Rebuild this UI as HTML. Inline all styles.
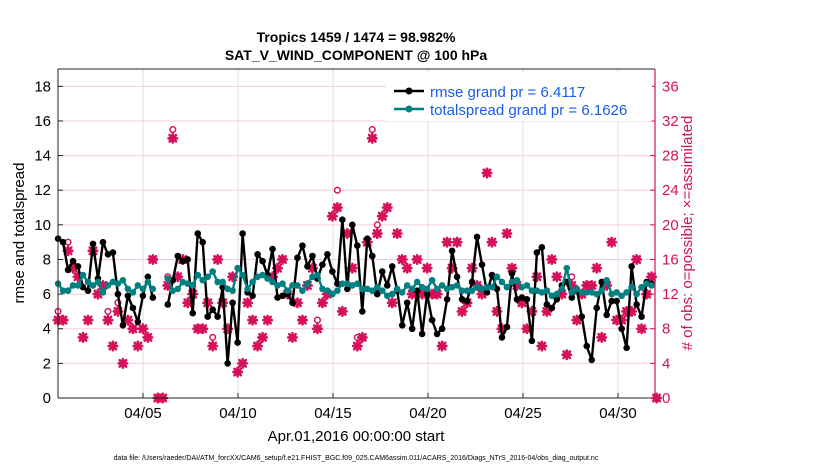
<!DOCTYPE html>
<html><head><meta charset="utf-8"><style>
html,body{margin:0;padding:0;background:#fff;}
svg{display:block;font-family:"Liberation Sans",Arial,sans-serif;}
</style></head><body>
<svg id="chart" width="830" height="470" viewBox="0 0 830 470">
<g>
<text x="356" y="42" text-anchor="middle" font-size="14" font-weight="bold">Tropics 1459 / 1474 = 98.982%</text>
<text x="356" y="60" text-anchor="middle" font-size="14" font-weight="bold">SAT_V_WIND_COMPONENT @ 100 hPa</text>
</g>
<rect x="58" y="69" width="597" height="329" fill="#fff"/>
<g id="grid"></g>
<g id="obs"></g>
<g id="lines"></g>
<g id="axes"></g>
<text x="24" y="233" transform="rotate(-90 24 233)" text-anchor="middle" font-size="15">rmse and totalspread</text>
<text x="692" y="233" transform="rotate(-90 692 233)" text-anchor="middle" font-size="15" fill="#d6105a"># of obs: o=possible; ×=assimilated</text>
<text x="356" y="441" text-anchor="middle" font-size="15">Apr.01,2016 00:00:00 start</text>
<text x="356" y="460" text-anchor="middle" font-size="7">data file: /Users/raeder/DAI/ATM_forcXX/CAM6_setup/f.e21.FHIST_BGC.f09_025.CAM6assim.011/ACARS_2016/Diags_NTrS_2016-04/obs_diag_output.nc</text>
<g>
<rect x="386" y="73" width="266" height="48" fill="#fff"/>
<line x1="394" y1="91" x2="424" y2="91" stroke="#000" stroke-width="2.5"/>
<circle cx="409" cy="91" r="3.5" fill="#000"/>
<text x="430" y="97" font-size="15" fill="#1a5ce6">rmse grand pr = 6.4117</text>
<line x1="394" y1="109" x2="424" y2="109" stroke="#008080" stroke-width="2.5"/>
<circle cx="409" cy="109" r="3.5" fill="#008080"/>
<text x="430" y="115" font-size="15" fill="#1a5ce6">totalspread grand pr = 6.1626</text>
</g>
</svg>
<script>
const tStart = 0.53;
const tStep = 0.2625;
const rmse = [9.2,9.0,7.4,7.9,7.6,6.4,6.2,8.9,6.9,9.0,8.3,8.4,6.0,4.2,5.9,5.2,4.4,5.9,7.0,5.8,
null,null,
5.4,6.8,8.2,7.9,8.0,4.9,9.5,9.0,
4.7,5.1,4.7,6.4,2.0,5.5,3.2,9.5,6.1,5.9,
8.3,7.9,7.1,8.6,5.8,5.9,6.0,5.5,8.1,8.8,
7.6,8.2,6.9,7.7,8.3,7.3,6.6,10.3,6.3,10.0,
8.8,5.0,9.2,8.2,6.0,7.3,6.5,7.6,6.2,4.2,
5.5,4.0,6.2,3.7,6.0,4.5,3.7,4.0,5.7,8.5,
7.0,5.7,5.6,6.7,9.3,7.7,6.1,7.1,6.3,3.5,
4.1,7.2,5.7,5.8,5.7,3.3,8.4,8.7,5.4,5.2,
5.7,6.5,6.7,5.8,6.3,4.7,3.0,2.2,5.2,6.7,
4.8,5.6,5.6,4.0,2.9,7.6,5.4,4.7,6.7,6.6,null];
const spread = [6.6,6.2,6.2,6.5,6.5,7.1,6.7,6.5,6.7,6.1,6.5,6.7,6.6,6.8,6.3,6.1,6.5,6.3,6.7,6.3,
null,null,
6.9,6.2,6.3,6.7,6.6,6.5,7.1,6.8,
7.0,7.3,6.7,6.7,6.3,6.2,7.5,7.1,6.3,6.7,
7.0,7.1,6.9,6.7,6.5,6.6,6.2,6.5,6.5,6.2,
6.6,7.0,7.1,6.3,6.2,6.0,6.2,6.6,6.6,6.5,
6.6,6.3,6.3,6.2,6.4,6.2,5.9,6.0,6.3,6.1,
6.5,6.3,6.7,6.4,6.3,6.8,6.3,6.5,6.3,6.4,
6.5,6.2,6.2,6.2,6.4,6.3,6.4,6.4,7.0,6.7,
6.4,6.7,6.8,6.4,6.5,6.2,6.2,6.1,6.2,5.9,
6.0,6.3,7.5,6.1,6.3,6.1,6.1,6.1,6.0,6.2,
6.8,6.0,6.1,5.9,6.1,6.4,6.0,6.4,6.6,6.5,null];
const assimilated = [9,9,17,15,14,7,9,17,12,13,9,6,10,4,9,8,6,8,7,16,
0,0,
13,30,14,16,11,12,8,8,11,6,16,11,8,14,3,4,11,9,6,7,9,14,15,16,12,7,11,9,13,15,8,11,12,21,22,10,19,15,6,
7,18,30,19,21,22,11,19,16,15,12,16,12,15,12,12,6,18,15,18,10,11,15,13,12,26,18,10,8,19,
15,13,11,8,10,14,6,10,16,14,12,5,13,9,12,13,13,15,7,13,18,9,9,10,10,16,8,12,14,0];
const possible = [10,9,18,15,14,7,9,17,12,13,10,6,11,4,9,8,6,8,7,16,
0,0,
14,31,14,16,11,13,8,8,11,7,16,11,8,14,3,4,11,9,6,7,9,14,15,16,12,7,11,9,13,15,9,11,12,21,24,10,19,15,7,
7,18,31,20,21,22,11,19,16,15,12,16,12,15,12,12,6,18,15,18,10,11,15,13,12,26,18,10,8,19,
15,13,11,8,10,14,6,10,16,14,12,5,14,9,12,13,13,15,7,13,18,9,9,10,10,16,8,12,14,0];
const leftTicks = [0,2,4,6,8,10,12,14,16,18];
const rightTicks = [0,4,8,12,16,20,24,28,32,36];
const dateTickDays = [5,10,15,20,25,30];
const dateTickLabels = ["04/05","04/10","04/15","04/20","04/25","04/30"];

const NS = "http://www.w3.org/2000/svg";
const X0 = 58, X1 = 655, Y0 = 398, Y1 = 69;
const xDay = d => 143 + (d - 5) * 19;
const xIdx = i => xDay(tStart + i * tStep);
const yL = v => Y0 - (v / 19) * (Y0 - Y1);
const yR = v => Y0 - (v / 38) * (Y0 - Y1);
function mk(tag, attrs, parent) {
  const e = document.createElementNS(NS, tag);
  for (const k in attrs) e.setAttribute(k, attrs[k]);
  parent.appendChild(e);
  return e;
}
const gridG = document.getElementById('grid');
const axesG = document.getElementById('axes');
const obsG = document.getElementById('obs');
const linesG = document.getElementById('lines');

rightTicks.forEach(t => {
  if (t === 0) return;
  const g = mk('line', {x1: X0, x2: X1, y1: yR(t), y2: yR(t), stroke: '#f0cfdc', 'stroke-width': 1}, gridG);
  
  
});
dateTickDays.forEach(d => {
  const g = mk('line', {x1: xDay(d), x2: xDay(d), y1: Y1, y2: Y0, stroke: '#dcdcdc', 'stroke-width': 1}, gridG);
  
  
});

possible.forEach((v, i) => {
  if (v == null) return;
  const c = mk('circle', {cx: xIdx(i), cy: yR(v), r: 2.8, fill: '#fff', stroke: '#d6105a', 'stroke-width': 1.5}, obsG);
  
  
});
assimilated.forEach((v, i) => {
  if (v == null) return;
  const x = xIdx(i), y = yR(v), s = 4.2, d = 3.2;
  const p = mk('path', {d: `M${x-s},${y}H${x+s}M${x},${y-s}V${y+s}M${x-d},${y-d}L${x+d},${y+d}M${x-d},${y+d}L${x+d},${y-d}`, stroke: '#d6105a', 'stroke-width': 2.6, 'stroke-linecap': 'round'}, obsG);
  
  
});

function drawSeries(arr, color, name) {
  let d = '', pen = false;
  arr.forEach((v, i) => {
    if (v == null) { pen = false; return; }
    d += (pen ? 'L' : 'M') + xIdx(i).toFixed(1) + ',' + yL(v).toFixed(1);
    pen = true;
  });
  const l = mk('path', {d: d, fill: 'none', stroke: color, 'stroke-width': 2.4, 'stroke-linejoin': 'round'}, linesG);
  
  
  arr.forEach((v, i) => {
    if (v == null) return;
    const c = mk('circle', {cx: xIdx(i), cy: yL(v), r: 3.3, fill: color}, linesG);
    
    
  });
}
drawSeries(rmse, '#000', 'rmse');
drawSeries(spread, '#008080', 'totalspread');

const axTop = mk('line', {x1: X0, x2: X1, y1: Y1, y2: Y1, stroke: '#222', 'stroke-width': 1}, axesG);


const axLeft = mk('line', {x1: X0, x2: X0, y1: Y1, y2: Y0, stroke: '#222', 'stroke-width': 1}, axesG);


const axBottom = mk('line', {x1: X0, x2: X1, y1: Y0, y2: Y0, stroke: '#222', 'stroke-width': 1}, axesG);


const axRight = mk('line', {x1: X1, x2: X1, y1: Y1, y2: Y0, stroke: '#d6105a', 'stroke-width': 1.2}, axesG);



leftTicks.forEach(t => {
  const tk = mk('line', {x1: X0, x2: X0 + 5, y1: yL(t), y2: yL(t), stroke: '#222'}, axesG);
  
  
  const tx = mk('text', {x: X0 - 7, y: yL(t) + 5, 'text-anchor': 'end', 'font-size': 15}, axesG);
  tx.textContent = t;
  
  
});
rightTicks.forEach(t => {
  const tk = mk('line', {x1: X1 - 5, x2: X1, y1: yR(t), y2: yR(t), stroke: '#d6105a'}, axesG);
  
  
  const tx = mk('text', {x: X1 + 7, y: yR(t) + 5, 'font-size': 15, fill: '#d6105a'}, axesG);
  tx.textContent = t;
  
  
});
dateTickDays.forEach((d, k) => {
  const tk = mk('line', {x1: xDay(d), x2: xDay(d), y1: Y0 - 5, y2: Y0, stroke: '#222'}, axesG);
  
  
  const tx = mk('text', {x: xDay(d), y: Y0 + 20, 'text-anchor': 'middle', 'font-size': 15}, axesG);
  tx.textContent = dateTickLabels[k];
  
  
});
</script>
</body></html>
